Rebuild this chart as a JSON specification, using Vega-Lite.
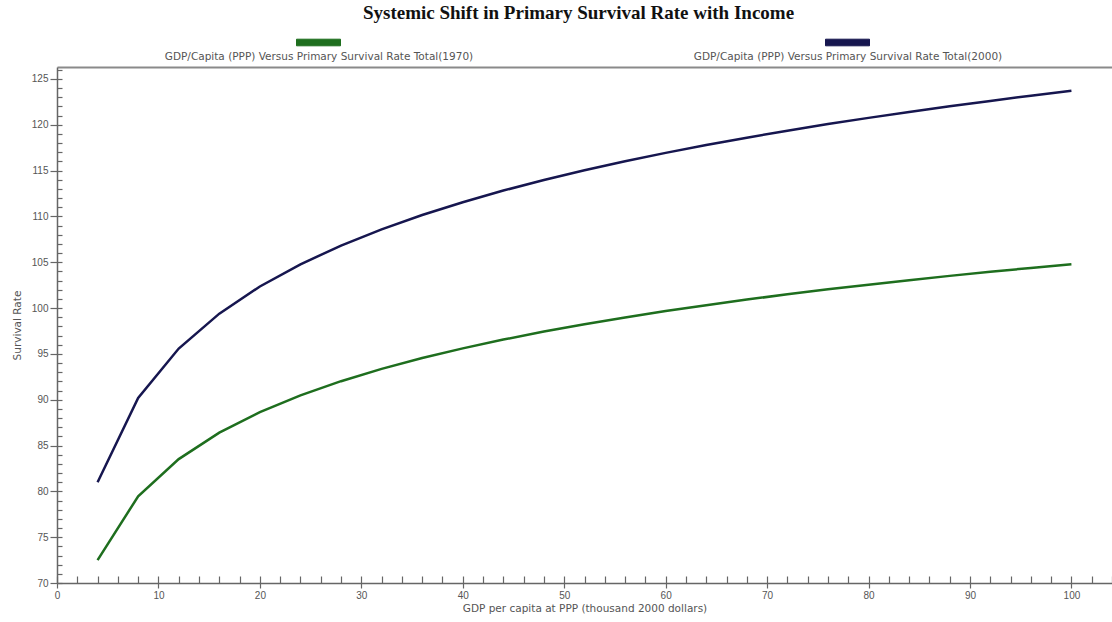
{
  "$schema": "https://vega.github.io/schema/vega-lite/v6.json",
  "width": 1055,
  "height": 516,
  "autosize": {"type": "none"},
  "padding": {"left": 57, "top": 67, "right": 0, "bottom": 39},
  "background": "white",
  "title": {
    "text": "Systemic Shift in Primary Survival Rate with Income",
    "font": "Liberation Serif",
    "fontSize": 19,
    "fontWeight": "bold",
    "color": "#111111",
    "anchor": "middle",
    "offset": -3,
    "dx": -6
  },
  "config": {
    "view": {"stroke": null},
    "axis": {
      "labelFont": "Liberation Sans",
      "labelFontSize": 10,
      "labelColor": "#555555",
      "titleFont": "DejaVu Sans",
      "titleFontSize": 10.5,
      "titleFontWeight": "normal",
      "titleColor": "#555555",
      "domainColor": "#666666",
      "domainWidth": 1.5,
      "tickColor": "#666666",
      "tickWidth": 1.2,
      "grid": false
    },
    "legend": {
      "labelFont": "DejaVu Sans",
      "labelFontSize": 10.5,
      "labelColor": "#555555",
      "labelLimit": 0
    }
  },
  "datasets": {
    "curves": [
      {"gdp": 4, "rate": 72.50, "series": "GDP/Capita (PPP) Versus Primary Survival Rate Total(1970)"},
      {"gdp": 8, "rate": 79.46, "series": "GDP/Capita (PPP) Versus Primary Survival Rate Total(1970)"},
      {"gdp": 12, "rate": 83.52, "series": "GDP/Capita (PPP) Versus Primary Survival Rate Total(1970)"},
      {"gdp": 16, "rate": 86.41, "series": "GDP/Capita (PPP) Versus Primary Survival Rate Total(1970)"},
      {"gdp": 20, "rate": 88.65, "series": "GDP/Capita (PPP) Versus Primary Survival Rate Total(1970)"},
      {"gdp": 24, "rate": 90.48, "series": "GDP/Capita (PPP) Versus Primary Survival Rate Total(1970)"},
      {"gdp": 28, "rate": 92.02, "series": "GDP/Capita (PPP) Versus Primary Survival Rate Total(1970)"},
      {"gdp": 32, "rate": 93.36, "series": "GDP/Capita (PPP) Versus Primary Survival Rate Total(1970)"},
      {"gdp": 36, "rate": 94.54, "series": "GDP/Capita (PPP) Versus Primary Survival Rate Total(1970)"},
      {"gdp": 40, "rate": 95.60, "series": "GDP/Capita (PPP) Versus Primary Survival Rate Total(1970)"},
      {"gdp": 44, "rate": 96.56, "series": "GDP/Capita (PPP) Versus Primary Survival Rate Total(1970)"},
      {"gdp": 48, "rate": 97.43, "series": "GDP/Capita (PPP) Versus Primary Survival Rate Total(1970)"},
      {"gdp": 52, "rate": 98.23, "series": "GDP/Capita (PPP) Versus Primary Survival Rate Total(1970)"},
      {"gdp": 56, "rate": 98.98, "series": "GDP/Capita (PPP) Versus Primary Survival Rate Total(1970)"},
      {"gdp": 60, "rate": 99.67, "series": "GDP/Capita (PPP) Versus Primary Survival Rate Total(1970)"},
      {"gdp": 64, "rate": 100.31, "series": "GDP/Capita (PPP) Versus Primary Survival Rate Total(1970)"},
      {"gdp": 68, "rate": 100.92, "series": "GDP/Capita (PPP) Versus Primary Survival Rate Total(1970)"},
      {"gdp": 72, "rate": 101.50, "series": "GDP/Capita (PPP) Versus Primary Survival Rate Total(1970)"},
      {"gdp": 76, "rate": 102.04, "series": "GDP/Capita (PPP) Versus Primary Survival Rate Total(1970)"},
      {"gdp": 80, "rate": 102.55, "series": "GDP/Capita (PPP) Versus Primary Survival Rate Total(1970)"},
      {"gdp": 84, "rate": 103.04, "series": "GDP/Capita (PPP) Versus Primary Survival Rate Total(1970)"},
      {"gdp": 88, "rate": 103.51, "series": "GDP/Capita (PPP) Versus Primary Survival Rate Total(1970)"},
      {"gdp": 92, "rate": 103.95, "series": "GDP/Capita (PPP) Versus Primary Survival Rate Total(1970)"},
      {"gdp": 96, "rate": 104.38, "series": "GDP/Capita (PPP) Versus Primary Survival Rate Total(1970)"},
      {"gdp": 100, "rate": 104.79, "series": "GDP/Capita (PPP) Versus Primary Survival Rate Total(1970)"},
      {"gdp": 4, "rate": 81.00, "series": "GDP/Capita (PPP) Versus Primary Survival Rate Total(2000)"},
      {"gdp": 8, "rate": 90.19, "series": "GDP/Capita (PPP) Versus Primary Survival Rate Total(2000)"},
      {"gdp": 12, "rate": 95.58, "series": "GDP/Capita (PPP) Versus Primary Survival Rate Total(2000)"},
      {"gdp": 16, "rate": 99.39, "series": "GDP/Capita (PPP) Versus Primary Survival Rate Total(2000)"},
      {"gdp": 20, "rate": 102.35, "series": "GDP/Capita (PPP) Versus Primary Survival Rate Total(2000)"},
      {"gdp": 24, "rate": 104.77, "series": "GDP/Capita (PPP) Versus Primary Survival Rate Total(2000)"},
      {"gdp": 28, "rate": 106.82, "series": "GDP/Capita (PPP) Versus Primary Survival Rate Total(2000)"},
      {"gdp": 32, "rate": 108.59, "series": "GDP/Capita (PPP) Versus Primary Survival Rate Total(2000)"},
      {"gdp": 36, "rate": 110.15, "series": "GDP/Capita (PPP) Versus Primary Survival Rate Total(2000)"},
      {"gdp": 40, "rate": 111.55, "series": "GDP/Capita (PPP) Versus Primary Survival Rate Total(2000)"},
      {"gdp": 44, "rate": 112.82, "series": "GDP/Capita (PPP) Versus Primary Survival Rate Total(2000)"},
      {"gdp": 48, "rate": 113.97, "series": "GDP/Capita (PPP) Versus Primary Survival Rate Total(2000)"},
      {"gdp": 52, "rate": 115.03, "series": "GDP/Capita (PPP) Versus Primary Survival Rate Total(2000)"},
      {"gdp": 56, "rate": 116.02, "series": "GDP/Capita (PPP) Versus Primary Survival Rate Total(2000)"},
      {"gdp": 60, "rate": 116.93, "series": "GDP/Capita (PPP) Versus Primary Survival Rate Total(2000)"},
      {"gdp": 64, "rate": 117.79, "series": "GDP/Capita (PPP) Versus Primary Survival Rate Total(2000)"},
      {"gdp": 68, "rate": 118.59, "series": "GDP/Capita (PPP) Versus Primary Survival Rate Total(2000)"},
      {"gdp": 72, "rate": 119.35, "series": "GDP/Capita (PPP) Versus Primary Survival Rate Total(2000)"},
      {"gdp": 76, "rate": 120.07, "series": "GDP/Capita (PPP) Versus Primary Survival Rate Total(2000)"},
      {"gdp": 80, "rate": 120.75, "series": "GDP/Capita (PPP) Versus Primary Survival Rate Total(2000)"},
      {"gdp": 84, "rate": 121.40, "series": "GDP/Capita (PPP) Versus Primary Survival Rate Total(2000)"},
      {"gdp": 88, "rate": 122.01, "series": "GDP/Capita (PPP) Versus Primary Survival Rate Total(2000)"},
      {"gdp": 92, "rate": 122.60, "series": "GDP/Capita (PPP) Versus Primary Survival Rate Total(2000)"},
      {"gdp": 96, "rate": 123.17, "series": "GDP/Capita (PPP) Versus Primary Survival Rate Total(2000)"},
      {"gdp": 100, "rate": 123.71, "series": "GDP/Capita (PPP) Versus Primary Survival Rate Total(2000)"}
    ]
  },
  "data": {"name": "curves"},
  "resolve": {"axis": {"x": "independent", "y": "independent"}},
  "layer": [
    {
      "mark": {"type": "line", "strokeWidth": 2.5},
      "encoding": {
        "x": {
          "field": "gdp", "type": "quantitative",
          "scale": {"domain": [0, 104], "nice": false, "zero": false},
          "axis": {
            "orient": "bottom",
            "title": "GDP per capita  at PPP (thousand 2000 dollars)",
            "values": [0, 10, 20, 30, 40, 50, 60, 70, 80, 90, 100],
            "tickSize": 5, "labelPadding": 2, "titlePadding": 3, "labelFlush": false
          }
        },
        "y": {
          "field": "rate", "type": "quantitative",
          "scale": {"domain": [70, 126.3], "nice": false, "zero": false},
          "axis": {
            "orient": "left",
            "title": "Survival Rate",
            "values": [70, 75, 80, 85, 90, 95, 100, 105, 110, 115, 120, 125],
            "tickSize": 7, "labelPadding": 2, "titlePadding": 9
          }
        },
        "color": {
          "field": "series", "type": "nominal",
          "scale": {"range": ["#1e6e1e", "#16164f"]},
          "legend": {
            "title": null,
            "orient": "none",
            "legendX": 239,
            "legendY": -47,
            "direction": "horizontal",
            "columns": 2,
            "columnPadding": 219,
            "padding": 0,
            "symbolType": "M-1,-0.15L1,-0.15L1,0.15L-1,0.15Z",
            "symbolSize": 1936,
            "symbolStrokeWidth": 1,
            "labelAlign": "center",
            "labelOffset": -22,
            "encode": {
              "symbols": {"update": {"fill": {"scale": "color", "field": "value"}}},
              "labels": {"update": {"dy": {"value": 14}}}
            }
          }
        }
      }
    },
    {
      "mark": {"type": "line", "strokeOpacity": 0},
      "encoding": {
        "x": {
          "field": "gdp", "type": "quantitative",
          "scale": {"domain": [0, 104], "nice": false, "zero": false},
          "axis": {"orient": "top", "title": null, "labels": false, "ticks": false, "domainColor": "#8a8a8a", "domainWidth": 2}
        },
        "y": {
          "field": "rate", "type": "quantitative",
          "scale": {"domain": [70, 126.3], "nice": false, "zero": false},
          "axis": {
            "orient": "left", "title": null, "labels": false, "domain": false,
            "values": [70, 71, 72, 73, 74, 75, 76, 77, 78, 79, 80, 81, 82, 83, 84, 85, 86, 87, 88, 89, 90, 91, 92, 93, 94, 95, 96, 97, 98, 99, 100, 101, 102, 103, 104, 105, 106, 107, 108, 109, 110, 111, 112, 113, 114, 115, 116, 117, 118, 119, 120, 121, 122, 123, 124, 125, 126],
            "tickSize": -5
          }
        },
        "detail": {"field": "series"}
      }
    },
    {
      "mark": {"type": "line", "strokeOpacity": 0},
      "encoding": {
        "x": {
          "field": "gdp", "type": "quantitative",
          "scale": {"domain": [0, 104], "nice": false, "zero": false},
          "axis": {
            "orient": "bottom", "title": null, "labels": false, "domain": false,
            "values": [0, 2, 4, 6, 8, 10, 12, 14, 16, 18, 20, 22, 24, 26, 28, 30, 32, 34, 36, 38, 40, 42, 44, 46, 48, 50, 52, 54, 56, 58, 60, 62, 64, 66, 68, 70, 72, 74, 76, 78, 80, 82, 84, 86, 88, 90, 92, 94, 96, 98, 100, 102, 104],
            "tickSize": -7
          }
        },
        "y": {
          "field": "rate", "type": "quantitative",
          "scale": {"domain": [70, 126.3], "nice": false, "zero": false},
          "axis": null
        },
        "detail": {"field": "series"}
      }
    }
  ]
}
